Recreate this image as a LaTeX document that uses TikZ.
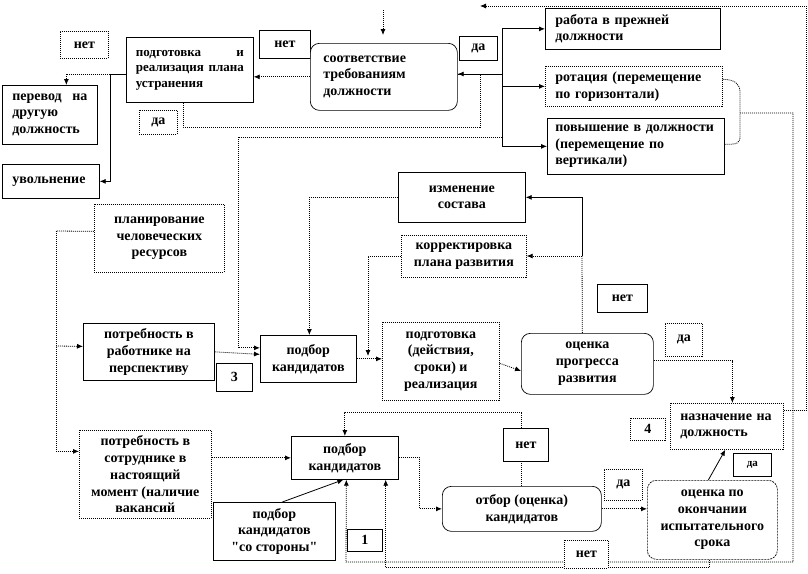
\documentclass[tikz,border=0pt]{standalone}
\usepackage{fontspec}
\setmainfont{Liberation Serif}[Ligatures=TeXOff]
\usetikzlibrary{arrows.meta,calc}
\pgfdeclarelayer{bg}
\pgfsetlayers{bg,main}
\begin{document}
\begin{tikzpicture}[x=1pt,y=-1pt,
  f/.style={font=\bfseries\fontsize{14}{16.7}\selectfont},
  bx/.style={draw, line width=0.7pt, fill=white, anchor=north west, inner sep=2pt, align=center, f},
  dbx/.style={bx, dash pattern=on 1pt off 1pt},
  rbx/.style={bx, rounded corners=9pt},
  lbx/.style={bx, align=left, inner xsep=10pt},
  con/.style={line width=0.8pt, dash pattern=on 1pt off 1pt},
  sol/.style={line width=0.8pt},
  arr/.style={-{Latex[length=6pt,width=5pt]}},
]
\useasboundingbox (0,0) rectangle (808,573);

% ---------- nodes ----------
\node[dbx,minimum width=48pt,minimum height=27pt] (net1) at (60,31) {нет};
\node[bx,align=left,inner xsep=9.5pt,text width=108pt,minimum height=65pt,font=\bfseries\fontsize{13}{15.5}\selectfont] (plan) at (126,37)
  {\makebox[108pt]{подготовка\hfill и}\\\makebox[108pt]{реализация\hfill плана}\\устранения};
\node[bx,minimum width=51pt,minimum height=28pt] (net2) at (259,30) {нет};
\node[bx,rounded corners=9pt,align=left,inner xsep=13pt,text width=121pt,minimum height=67pt] (sootv) at (310,43) {соответствие\\требованиям\\должности};
\node[bx,minimum width=38pt,minimum height=24pt] (da1) at (459,36) {да};
\node[lbx,text width=155pt,minimum height=41pt] (rabota) at (545,8) {работа в прежней\\должности};
\node[lbx,dash pattern=on 1pt off 1pt,text width=157pt,minimum height=40pt] (rotac) at (545,66) {\mbox{ротация (перемещение}\\по горизонтали)};
\node[lbx,inner xsep=8pt,text width=161pt,minimum height=56pt] (povysh) at (547,118) {\mbox{повышение в должности}\\(перемещение по\\вертикали)};
\node[lbx,text width=75pt,minimum height=59pt] (perevod) at (2,85) {\makebox[75pt]{перевод\hfill на}\\другую\\должность};
\node[lbx,text width=77pt,minimum height=34pt] (uvol) at (2,164) {увольнение};
\node[dbx,minimum width=38pt,minimum height=24pt] (da2) at (139,110) {да};
\node[bx,minimum width=127pt,minimum height=50pt] (izmen) at (398,172) {изменение\\состава};
\node[dbx,minimum width=125pt,minimum height=42pt] (korr) at (401,235) {корректировка\\плана развития};
\node[dbx,minimum width=130pt,minimum height=68pt] (planhr) at (94,204) {планирование\\человеческих\\ресурсов};
\node[bx,minimum width=131pt,minimum height=57pt] (potr1) at (83,323) {потребность в\\работнике на\\перспективу};
\node[bx,minimum width=36pt,minimum height=28pt] (n3) at (216,363) {3};
\node[bx,minimum width=96pt,minimum height=47pt] (podbor1) at (260,335) {подбор\\кандидатов};
\node[dbx,minimum width=117pt,minimum height=78pt] (podgot) at (382,322) {подготовка\\(действия,\\сроки) и\\реализация};
\node[rbx,minimum width=132pt,minimum height=61pt] (ocenka1) at (521,333) {оценка\\прогресса\\развития};
\node[bx,minimum width=50pt,minimum height=28pt] (net3) at (597,284) {нет};
\node[dbx,minimum width=37pt,minimum height=33pt] (da3) at (665,323) {да};
\node[dbx,minimum width=35pt,minimum height=22pt] (n4) at (630,418) {4};
\node[lbx,dash pattern=on 1pt off 1pt,text width=93pt,minimum height=46pt] (naznach) at (670,403) {назначение на\\должность};
\node[bx,minimum width=38pt,minimum height=23pt,font=\bfseries\fontsize{11}{13}\selectfont] (da4) at (733,453) {да};
\node[rbx,dash pattern=on 2pt off 1pt,minimum width=130pt,minimum height=79pt] (ocenka2) at (647,480) {оценка по\\окончании\\испытательного\\срока};
\node[dbx,minimum width=38pt,minimum height=31pt] (da5) at (604,469) {да};
\node[rbx,minimum width=159pt,minimum height=45pt] (otbor) at (442,486) {отбор (оценка)\\кандидатов};
\node[dbx,minimum width=44pt,minimum height=28pt] (net4) at (564,540) {нет};
\node[bx,minimum width=35pt,minimum height=22pt] (n1) at (347,529) {1};
\node[bx,minimum width=45pt,minimum height=33pt] (net5) at (503,428) {нет};
\node[bx,minimum width=107pt,minimum height=43pt] (podbor2) at (291,436) {подбор\\кандидатов};
\node[bx,minimum width=122pt,minimum height=58pt] (storony) at (213,502) {подбор\\кандидатов\\"со стороны"};
\node[dbx,minimum width=132pt,minimum height=88pt] (potr2) at (79,430) {потребность в\\сотруднике в\\настоящий\\момент (наличие\\вакансий};

% ---------- connectors ----------
\begin{pgfonlayer}{bg}
\coordinate (t0) at (383,10);
\coordinate (t1) at (383,35);
\draw[con,arr] (t0) -- (t1);

\coordinate (r0) at (806,6);
\coordinate (r1) at (480,6);
\draw[con,arr] ([yshift=16pt]naznach.east) -| (r0) -- (r1);

\coordinate (j1) at (502,74);
\draw[sol] (sootv.east |- j1) -- (j1);
\draw[sol,arr] (j1) |- (rabota.west);
\draw[sol,arr] (j1) |- (rotac.west);
\draw[sol,arr] (j1) |- (povysh.west);

\coordinate (k1) at (480,127);
\draw[con,arr] ([xshift=-6.5pt]plan.south) |- (k1) |- (sootv.east |- j1);

\coordinate (k2) at (502,137);
\draw[con,line width=1pt,arr] (k2) -- (238,137) |- ([yshift=11pt]podbor1.west);

\draw[con,arr] (sootv.west) -- (sootv.west -| plan.east);

\coordinate (j2) at (110,74);
\draw[sol] (plan.west |- j2) -- (j2);
\draw[con,arr] (j2) -| ([xshift=16.5pt]perevod.north);
\draw[sol,arr] (j2) |- (uvol.east);

\coordinate (j3) at (56,231);
\coordinate (j4) at (56,346);
\draw[con] ([yshift=7pt]planhr.west) -- (j3);
\draw[con,arr] (j3) |- ([yshift=23pt]potr2.west);
\draw[con,arr] (j4) -- ([yshift=5.5pt]potr1.west);

\draw[con,arr] (potr1.east) -- ([yshift=4.5pt]podbor1.west);
\draw[con,arr] (podbor1.east) -- (podbor1.east -| podgot.west);

\coordinate (k3) at (368,356);
\draw[con,arr] (korr.west) -| (k3);
\draw[con,arr] (izmen.west) -| ([xshift=1pt]podbor1.north);

\draw[con,arr] ([yshift=-2pt]podgot.east) -- ([yshift=-7pt]ocenka1.west);

\coordinate (j5) at (582,256);
\draw[con] ([xshift=-5pt]ocenka1.north) -- (j5);
\draw[sol,arr] (j5) |- (izmen.east);
\draw[con,arr] (j5) -- (j5 -| korr.east);

\draw[con,arr] ([yshift=3pt]ocenka1.east) -| ([xshift=5.5pt]naznach.north);
\draw[sol,arr] ([xshift=-4pt]ocenka2.north) -- ([xshift=-1.5pt]naznach.south);
\draw[con,arr] (otbor.east) -- (otbor.east -| ocenka2.west);
\draw[con,arr] (podbor2.east) -- ++(21,0) |- (otbor.west);
\draw[con,arr] (otbor.north) -- ++(0,-74) -| (podbor2.north);
\draw[con,arr] (potr2.east |- podbor2.west) -- (podbor2.west);
\draw[sol,arr] ([xshift=8pt]storony.north) -- ([xshift=-1.5pt]podbor2.south);

\coordinate (b1) at (740,113);
\draw[con] ([yshift=7pt]rotac.east) .. controls +(12,0) and +(0,-8) .. (740,92) -- (740,136) .. controls +(0,8) and +(12,0) .. ([yshift=2pt]povysh.east);
\draw[con,arr] (b1) -- (793,113) |- (346,562) -- ([xshift=1.5pt]podbor2.south);
\draw[con,arr] ([xshift=-3pt]ocenka2.south) -- ++(0,8) -| ([xshift=-13pt]podbor2.south east);
\end{pgfonlayer}
\end{tikzpicture}
\end{document}
